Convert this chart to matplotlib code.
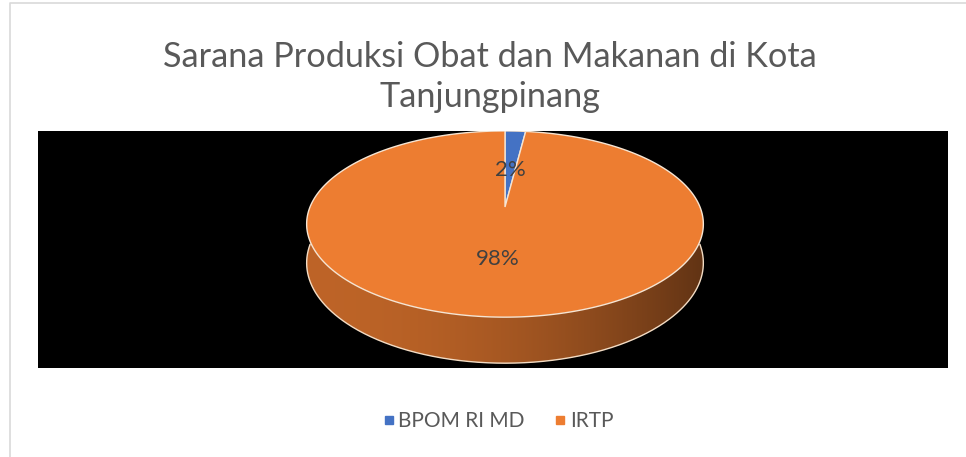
import numpy as np
import matplotlib
matplotlib.use('Agg')
import matplotlib.pyplot as plt
from matplotlib.patches import Polygon, Rectangle
from matplotlib.lines import Line2D
from matplotlib.colors import LinearSegmentedColormap

labels = ['BPOM RI MD', 'IRTP']
values = [2, 98]
colors = ['#4472C4', '#ED7D31']
title = 'Sarana Produksi Obat dan Makanan di Kota\nTanjungpinang'

# pie geometry in pixel units (perspective squashed disk)
CX, CY = 505, 207
RX, RY = 195, 90
K = 0.183
DEPTH = 37.6
FONT = ['Lato', 'DejaVu Sans']
label_r = [0.44, 0.52]


def proj(th, r=1.0, drop=0.0):
    u = r*np.cos(th)
    v = r*np.sin(th)
    w = 1 + K*v
    return CX + RX*u/w, CY - RY*v/w + drop/w


fig = plt.figure(figsize=(9.66, 4.57), dpi=100)
ax = fig.add_axes([0, 0, 1, 1])
ax.set_xlim(0, 966)
ax.set_ylim(457, 0)
ax.axis('off')

# chart frame + black plot area
ax.plot([10, 10, 970], [460, 3, 3], color='#d9d9d9', lw=1.2)
bg = Rectangle((38, 131), 910, 237, facecolor='black', edgecolor='none')
ax.add_patch(bg)

fr = np.array(values, dtype=float)/sum(values)
starts = np.pi/2 - 2*np.pi*np.concatenate([[0], np.cumsum(fr)[:-1]])
ends = starts - 2*np.pi*fr

# side wall (front half is all IRTP), shaded darker towards the right
ts = np.linspace(np.pi, 2*np.pi, 400)
tx, ty = proj(ts)
bx, by = proj(ts, drop=DEPTH)
side = Polygon(np.column_stack([np.r_[tx, bx[::-1]], np.r_[ty, by[::-1]]]),
               closed=True, facecolor='none', edgecolor='none')
ax.add_patch(side)
base = np.array(matplotlib.colors.to_rgb(colors[1]))
f = np.linspace(0, 1, 256)
shade = 0.8 - 0.4*f**2
cmap = LinearSegmentedColormap.from_list('side', [base*s for s in shade])
xl, xr = tx.min() - 5, tx.max() + 5
im = ax.imshow(f[None, :], cmap=cmap, aspect='auto',
               extent=[xl, xr, by.max() + 2, ty.min() - 2], zorder=1.5)
im.set_clip_path(side)
ln, = ax.plot(bx, by, color='#f3dcc4', lw=1, zorder=1.6)

# top face
for i in range(len(values)):
    th = np.linspace(starts[i], ends[i], 400)
    x, y = proj(th)
    pts = np.column_stack([np.r_[CX, x], np.r_[CY, y]])
    p = Polygon(pts, closed=True, facecolor=colors[i], edgecolor='#f6e5d3',
                lw=1, zorder=2)
    ax.add_patch(p)
    p.set_clip_path(bg)

# data labels
for i in range(len(values)):
    tm = 0.5*(starts[i] + ends[i])
    x, y = proj(tm, r=label_r[i])
    ax.text(x, y, '{:.0f}%'.format(fr[i]*100), ha='center', va='center',
            fontsize=16, color='#404040', family=FONT, zorder=3)

ax.text(490, 77, title, ha='center', va='center', fontsize=24.7,
        color='#595959', family=FONT, linespacing=1.33)

handles = [Line2D([], [], marker='s', ls='none', color=c, markersize=6) for c in colors]
ax.legend(handles, labels, loc='center', bbox_to_anchor=(497, 421),
          bbox_transform=ax.transData, ncol=2, frameon=False,
          prop={'family': FONT, 'size': 15}, labelcolor='#595959',
          handletextpad=0.05, columnspacing=1.3, handlelength=0.8)

fig.savefig('out.png', dpi=100, facecolor='white')
